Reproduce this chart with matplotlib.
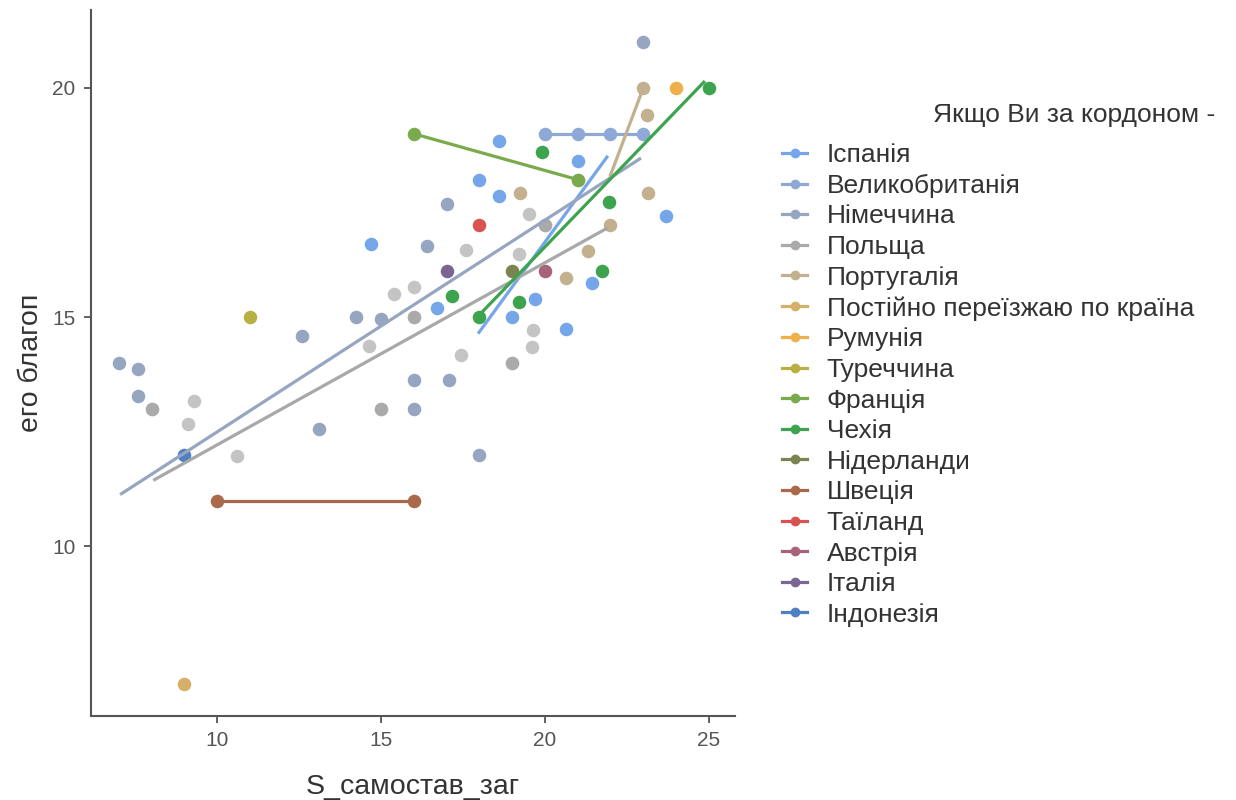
import matplotlib
matplotlib.use("Agg")
import matplotlib.pyplot as plt
from matplotlib.lines import Line2D

plt.rcParams['font.family'] = ['Liberation Sans', 'DejaVu Sans']

# countries in legend order
countries = ['Іспанія', 'Великобританія', 'Німеччина', 'Польща', 'Португалія',
             'Постійно переїзжаю по країна', 'Румунія', 'Туреччина', 'Франція',
             'Чехія', 'Нідерланди', 'Швеція', 'Таїланд', 'Австрія', 'Італія',
             'Індонезія']
colors = ['#76a6ea', '#8fa9d6', '#96a5c0', '#969696', '#c2b08e', '#d5b06a',
          '#eeb04a', '#b8b042', '#79aa4b', '#3ea34e', '#7b8350', '#a9694a',
          '#d95353', '#a9627c', '#7b6592', '#4f80c2']

# points per country (S_самостав_заг, его благоп)
spain_x = [14.7, 16.7, 18, 18.6, 18.6, 19, 19.7, 20.65, 21, 21.45, 23.7]
spain_y = [16.6, 15.2, 18, 18.85, 17.65, 15, 15.4, 14.75, 18.4, 15.75, 17.2]
uk_x = [20, 21, 22, 23]
uk_y = [19, 19, 19, 19]
germany_x = [7, 7.6, 7.6, 12.6, 13.1, 14.25, 15, 16.4, 17, 16, 17.07, 16, 18, 23]
germany_y = [14, 13.86, 13.27, 14.58, 12.55, 15, 14.97, 16.56, 17.47, 13.64, 13.62, 13, 12, 21]
poland_x = [9.3, 9.1, 10.6, 14.63, 15.4, 16, 17.6, 17.45, 19.5, 19.2, 19.65, 19.6,
            8, 8, 15, 15, 16, 16, 19, 19, 20, 20, 21]
poland_y = [13.18, 12.66, 11.98, 14.36, 15.51, 15.66, 16.47, 14.18, 17.25, 16.38, 14.71, 14.34,
            13, 13, 13, 13, 15, 15, 14, 14, 17, 17, 18]
portugal_x = [19.25, 20.65, 21.3, 22, 23.15, 23.1, 23]
portugal_y = [17.7, 15.86, 16.45, 17, 17.7, 19.4, 20]
moving_x = [9]
moving_y = [7]
romania_x = [24]
romania_y = [20]
turkey_x = [11]
turkey_y = [15]
france_x = [16, 21]
france_y = [19, 18]
czech_x = [17.15, 18, 19.2, 19.9, 21.75, 21.95, 25]
czech_y = [15.47, 15, 15.34, 18.6, 16.0, 17.52, 20]
netherlands_x = [19]
netherlands_y = [16]
sweden_x = [10, 16]
sweden_y = [11, 11]
thailand_x = [18]
thailand_y = [17]
austria_x = [20]
austria_y = [16]
italy_x = [17]
italy_y = [16]
indonesia_x = [9]
indonesia_y = [12]

# fitted linear trends (start/end of each group line)
trend_spain_x, trend_spain_y = [17.96, 21.92], [14.64, 18.52]
trend_uk_x, trend_uk_y = [20, 23], [19, 19]
trend_germany_x, trend_germany_y = [7.04, 22.93], [11.13, 18.47]
trend_poland_x, trend_poland_y = [8.05, 21.92], [11.44, 16.95]
trend_portugal_x, trend_portugal_y = [21.98, 23], [18.06, 20]
trend_france_x, trend_france_y = [16, 21], [19, 18]
trend_czech_x, trend_czech_y = [18, 24.88], [15.05, 20.15]
trend_sweden_x, trend_sweden_y = [10, 16], [11, 11]

point_sets = [(spain_x, spain_y), (uk_x, uk_y), (germany_x, germany_y),
              (poland_x, poland_y), (portugal_x, portugal_y), (moving_x, moving_y),
              (romania_x, romania_y), (turkey_x, turkey_y), (france_x, france_y),
              (czech_x, czech_y), (netherlands_x, netherlands_y), (sweden_x, sweden_y),
              (thailand_x, thailand_y), (austria_x, austria_y), (italy_x, italy_y),
              (indonesia_x, indonesia_y)]
trends = {0: (trend_spain_x, trend_spain_y), 1: (trend_uk_x, trend_uk_y),
          2: (trend_germany_x, trend_germany_y), 3: (trend_poland_x, trend_poland_y),
          4: (trend_portugal_x, trend_portugal_y), 8: (trend_france_x, trend_france_y),
          9: (trend_czech_x, trend_czech_y), 11: (trend_sweden_x, trend_sweden_y)}

fig = plt.figure(figsize=(12.36, 8), dpi=100)
ax = fig.add_axes([0.0736, 0.105, 0.5211, 0.8825])

for i, (xs, ys) in enumerate(point_sets):
    alpha = 0.56 if countries[i] == 'Польща' else 1.0
    ax.scatter(xs, ys, s=95, color=colors[i], alpha=alpha, linewidths=0, zorder=2)

line_colors = list(colors)
line_colors[3] = '#a8a8a8'
for i, (tx, ty) in trends.items():
    ax.plot(tx, ty, color=line_colors[i], lw=2.3, zorder=3, solid_capstyle='butt')

ax.set_xlim(6.15, 25.8)
ax.set_ylim(6.3, 21.7)
ax.set_xticks([10, 15, 20, 25])
ax.set_yticks([10, 15, 20])
for side in ['top', 'right']:
    ax.spines[side].set_visible(False)
for side in ['left', 'bottom']:
    ax.spines[side].set_color('#555555')
    ax.spines[side].set_linewidth(1.5)
ax.tick_params(colors='#555555', labelsize=15, length=5, width=1.3, pad=6)
ax.set_xlabel('S_самостав_заг', fontsize=20.5, color='#333333', labelpad=17)
ax.set_ylabel('его благоп', fontsize=20.5, color='#333333', labelpad=6)

legend_colors = list(colors)
legend_colors[3] = '#aaaaaa'
handles = [Line2D([0], [0], color=c, lw=2.3, marker='o', markersize=6)
           for c in legend_colors]
leg = fig.legend(handles, countries, loc='upper left', bbox_to_anchor=(0.622, 0.8375),
                 frameon=False, fontsize=19, handlelength=0.95, handletextpad=0.74,
                 labelspacing=0.25, borderpad=0)
for t in leg.get_texts():
    t.set_color('#333333')
fig.text(1215 / 1236, 1 - 115 / 800, 'Якщо Ви за кордоном -', fontsize=19,
         color='#333333', ha='right', va='center')

fig.savefig('out.png', dpi=100)
